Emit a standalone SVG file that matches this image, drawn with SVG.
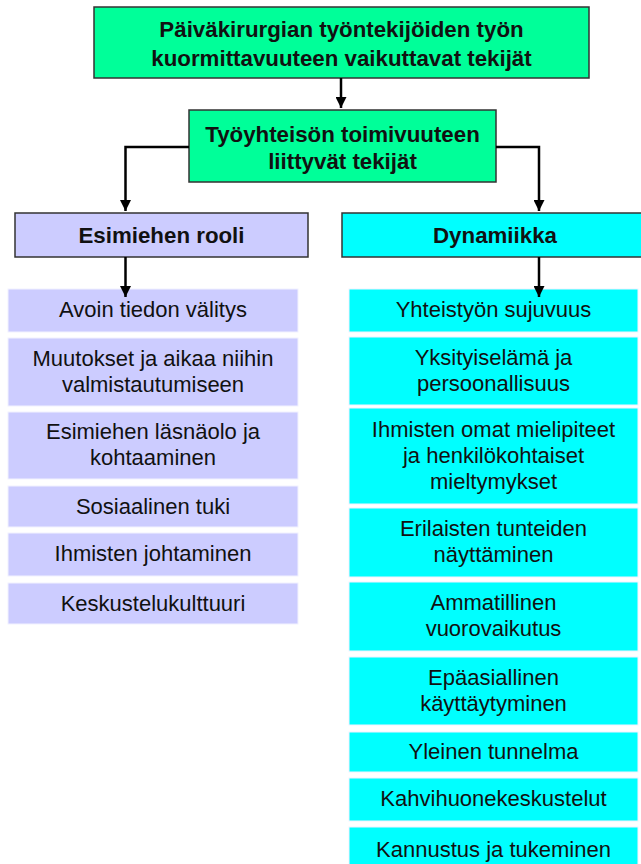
<svg xmlns="http://www.w3.org/2000/svg" width="641" height="864" viewBox="0 0 641 864">
<defs>
<style>
.hb{stroke:#333;stroke-width:1.5}
.g{fill:#00FF99}
.l{fill:#CCCCFF}
.c{fill:#00FFFF}
.it{stroke:#F2F2FF;stroke-width:1}
.b{font-family:"Liberation Sans",Arial,sans-serif;font-weight:bold;font-size:22.3px;fill:#111;text-anchor:middle}
.t{font-family:"Liberation Sans",Arial,sans-serif;font-size:22px;fill:#111;text-anchor:middle}
.cn{fill:none;stroke:#000;stroke-width:2.5}
</style>
<marker id="ah" markerUnits="userSpaceOnUse" markerWidth="11" markerHeight="11" viewBox="0 0 10 10" refX="10" refY="5" orient="auto">
<path d="M0,0 L10,5 L0,10 Z" fill="#000"/>
</marker>
</defs>
<rect width="641" height="864" fill="#fff"/>
<g id="n-top">
<rect class="g hb" x="94" y="7" width="495" height="71"/>
<text class="b" x="341.5" y="37">Päiväkirurgian työntekijöiden työn</text>
<text class="b" x="341.5" y="66">kuormittavuuteen vaikuttavat tekijät</text>
</g>
<g id="n-tyoyhteiso">
<rect class="g hb" x="189" y="110" width="307" height="72"/>
<text class="b" x="342.5" y="142">Työyhteisön toimivuuteen</text>
<text class="b" x="342.5" y="169">liittyvät tekijät</text>
</g>
<g id="n-esimies">
<rect class="l hb" x="15" y="213" width="293" height="44"/>
<text class="b" x="161.5" y="243">Esimiehen rooli</text>
</g>
<g id="n-dynamiikka">
<rect class="c hb" x="342" y="213" width="306" height="44"/>
<text class="b" x="495" y="243">Dynamiikka</text>
</g>
<g id="l1"><rect class="l it" x="8" y="289" width="290" height="43"/><text class="t" x="153" y="317">Avoin tiedon välitys</text></g>
<g id="l2"><rect class="l it" x="8" y="338" width="290" height="68"/><text class="t" x="153" y="366">Muutokset ja aikaa niihin</text><text class="t" x="153" y="392">valmistautumiseen</text></g>
<g id="l3"><rect class="l it" x="8" y="412" width="290" height="67"/><text class="t" x="153" y="439">Esimiehen läsnäolo ja</text><text class="t" x="153" y="465">kohtaaminen</text></g>
<g id="l4"><rect class="l it" x="8" y="486" width="290" height="41"/><text class="t" x="153" y="514">Sosiaalinen tuki</text></g>
<g id="l5"><rect class="l it" x="8" y="533" width="290" height="43"/><text class="t" x="153" y="561">Ihmisten johtaminen</text></g>
<g id="l6"><rect class="l it" x="8" y="583" width="290" height="41"/><text class="t" x="153" y="611">Keskustelukulttuuri</text></g>
<g id="r1"><rect class="c it" x="349" y="289" width="289" height="43"/><text class="t" x="493.5" y="317">Yhteistyön sujuvuus</text></g>
<g id="r2"><rect class="c it" x="349" y="337" width="289" height="68"/><text class="t" x="493.5" y="365">Yksityiselämä ja</text><text class="t" x="493.5" y="391">persoonallisuus</text></g>
<g id="r3"><rect class="c it" x="349" y="408" width="289" height="96"/><text class="t" x="493.5" y="437">Ihmisten omat mielipiteet</text><text class="t" x="493.5" y="463">ja henkilökohtaiset</text><text class="t" x="493.5" y="489">mieltymykset</text></g>
<g id="r4"><rect class="c it" x="349" y="508" width="289" height="69"/><text class="t" x="493.5" y="536">Erilaisten tunteiden</text><text class="t" x="493.5" y="562">näyttäminen</text></g>
<g id="r5"><rect class="c it" x="349" y="582" width="289" height="69"/><text class="t" x="493.5" y="610">Ammatillinen</text><text class="t" x="493.5" y="636">vuorovaikutus</text></g>
<g id="r6"><rect class="c it" x="349" y="657" width="289" height="68"/><text class="t" x="493.5" y="685">Epäasiallinen</text><text class="t" x="493.5" y="711">käyttäytyminen</text></g>
<g id="r7"><rect class="c it" x="349" y="732" width="289" height="40"/><text class="t" x="493.5" y="759">Yleinen tunnelma</text></g>
<g id="r8"><rect class="c it" x="349" y="778" width="289" height="43"/><text class="t" x="493.5" y="806">Kahvihuonekeskustelut</text></g>
<g id="r9"><rect class="c it" x="349" y="827" width="289" height="45"/><text class="t" x="493.5" y="857">Kannustus ja tukeminen</text></g>
<g id="connectors">
<path class="cn" d="M341,78 V108" marker-end="url(#ah)"/>
<path class="cn" d="M189,147 H125.5 V211" marker-end="url(#ah)"/>
<path class="cn" d="M496,147 H539 V211" marker-end="url(#ah)"/>
<path class="cn" d="M125.5,257 V297" marker-end="url(#ah)"/>
<path class="cn" d="M539,257 V297" marker-end="url(#ah)"/>
</g>
</svg>
